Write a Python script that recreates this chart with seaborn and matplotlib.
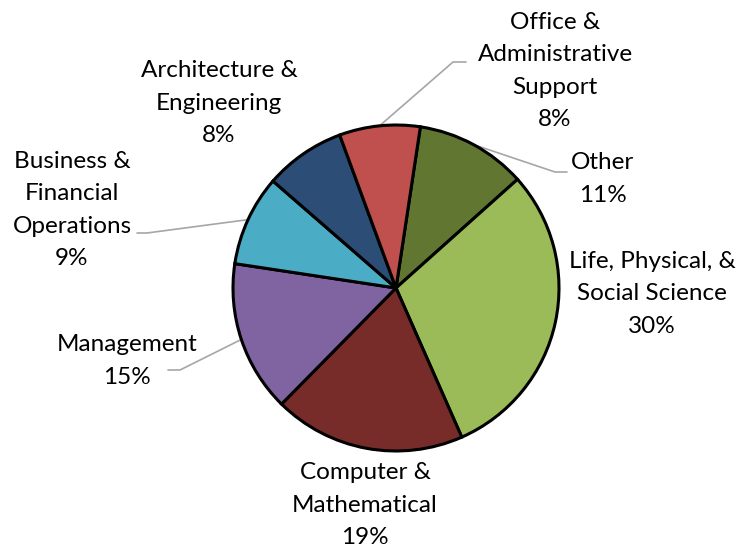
import numpy as np
import seaborn as sns
import matplotlib
matplotlib.use("Agg")
import matplotlib.pyplot as plt

# data
categories = ["Other", "Life, Physical, &\nSocial Science", "Computer &\nMathematical",
              "Management", "Business &\nFinancial\nOperations",
              "Architecture &\nEngineering", "Office &\nAdministrative\nSupport"]
shares = [11, 30, 19, 15, 9, 8, 8]
colors = ["#617630", "#9BBB59", "#772C2A", "#8064A2", "#4BACC6", "#2C4D75", "#C0504D"]

# layout (image pixels, y down)
W, H = 740, 548
center_px = (396, 288)
radius_px = 163
label_pos = [(603, 179), (652, 294), (365, 505), (127, 361), (72, 210), (219, 103), (555, 71)]
# elbow + end of leader lines, None where Excel drew no leader
leaders = [((555, 172), (567, 172)), None, None, ((180, 370), (168, 370)),
           ((147, 233), (137, 233)), None, ((453, 62), (466, 62))]


def px(x, y):
    return x, H - y


sns.set_style("white")
plt.rcParams["font.family"] = ["Lato", "DejaVu Sans"]

fig = plt.figure(figsize=(W / 100, H / 100), dpi=100)
ax = fig.add_axes([0, 0, 1, 1])

wedges, _ = ax.pie(shares, colors=colors, startangle=81.4, counterclock=False,
                   center=px(*center_px), radius=radius_px, frame=True,
                   wedgeprops=dict(edgecolor="black", linewidth=2.2))
ax.set_xlim(0, W)
ax.set_ylim(0, H)
ax.set_aspect("equal")
ax.axis("off")

cx, cy = px(*center_px)
for w, cat, val, pos, lead in zip(wedges, categories, shares, label_pos, leaders):
    ax.text(*px(*pos), f"{cat}\n{val}%", ha="center", va="center", fontsize=17.5,
            linespacing=1.66, color="black")
    if lead is not None:
        mid = np.deg2rad((w.theta1 + w.theta2) / 2)
        ex, ey = cx + radius_px * np.cos(mid), cy + radius_px * np.sin(mid)
        (bx, by), (tx, ty) = px(*lead[0]), px(*lead[1])
        ax.plot([ex, bx, tx], [ey, by, ty], color="#A6A6A6", lw=1.2, zorder=0)

fig.savefig("out.png", dpi=100, facecolor="white")
